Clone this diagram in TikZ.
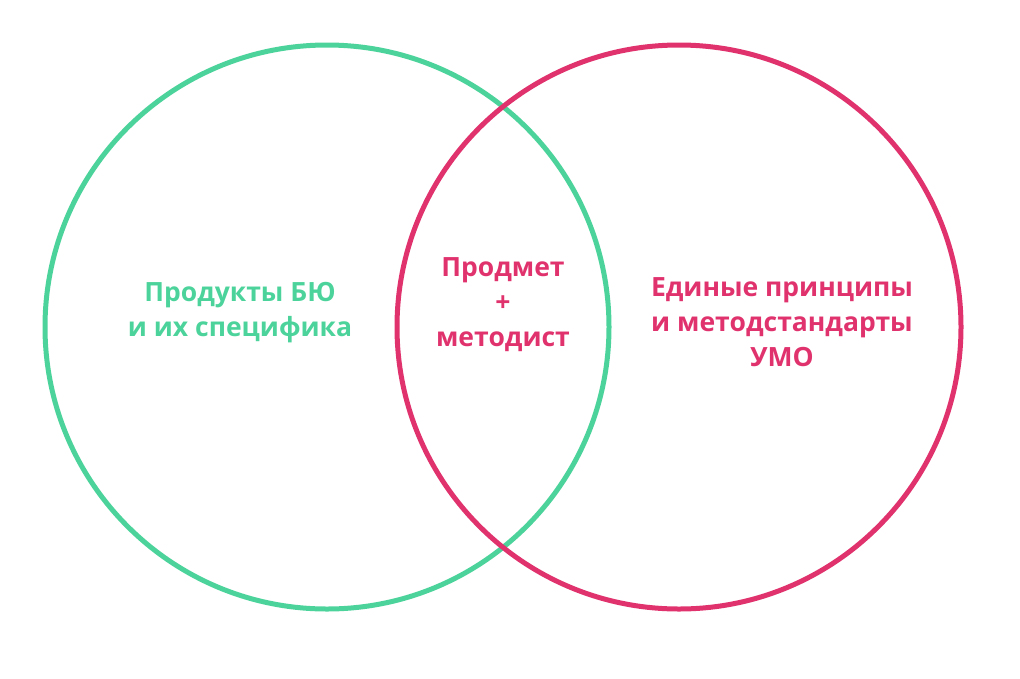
\documentclass[tikz,border=0pt]{standalone}
\usepackage{fontspec}
\setmainfont{Open Sans}
\definecolor{vgreen}{HTML}{4CD39B}
\definecolor{vred}{HTML}{E0336E}
\begin{document}
\begin{tikzpicture}[x=1pt,y=-1pt,
  ring/.style={line width=5pt},
  lbl/.style={font=\fontsize{26.5}{35}\selectfont\bfseries, align=center, inner sep=0pt}]
\useasboundingbox (0,0) rectangle (1020,678);
\draw[ring, vgreen] (327,327) circle[radius=282];
\draw[ring, vred] (679,327) circle[radius=282];
\node[lbl, text=vgreen] (a) at (240,313) {Продукты БЮ\\и их специфика};
\node[lbl, text=vred] (b) at (503,305) {Продмет\\+\\методист};
\node[lbl, text=vred] (c) at (782,322) {Единые принципы\\и методстандарты\\УМО};
\end{tikzpicture}
\end{document}
